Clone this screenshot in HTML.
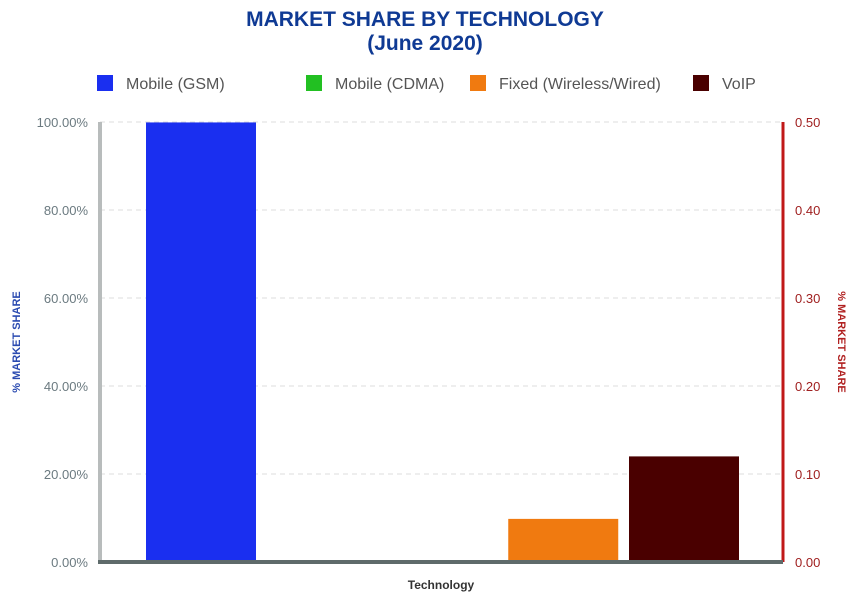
<!DOCTYPE html>
<html><head><meta charset="utf-8"><style>
body{margin:0;background:#fff;font-family:"Liberation Sans",sans-serif}
svg text{font-family:"Liberation Sans",sans-serif}
</style></head><body>
<svg id="c" width="850" height="598">
<text x="425" y="26" text-anchor="middle" font-size="21" font-weight="bold" fill="#0f3a94">MARKET SHARE BY TECHNOLOGY</text>
<text x="425" y="50" text-anchor="middle" font-size="21" font-weight="bold" fill="#0f3a94">(June 2020)</text>
<g id="grid"></g>
<g id="bars"></g>
<g id="axes"></g>
<g id="legend"></g>
<text transform="translate(20,342) rotate(-90)" text-anchor="middle" font-size="11" font-weight="bold" fill="#2a4ab0">% MARKET SHARE</text>
<text transform="translate(838,342) rotate(90)" text-anchor="middle" font-size="11" font-weight="bold" fill="#b02020">% MARKET SHARE</text>
<text x="441" y="589" text-anchor="middle" font-size="12" font-weight="bold" fill="#333">Technology</text>
</svg>
<script>
const categories=["Mobile (GSM)","Mobile (CDMA)","Fixed (Wireless/Wired)","VoIP"];
const leftValues=[99.9,0,null,null];
const rightValues=[null,null,0.049,0.12];
const colors=["#1a2ff0","#22c022","#f07a10","#4a0000"];
const leftTicks=[0,20,40,60,80,100];
const rightTicks=[0,0.1,0.2,0.3,0.4,0.5];
const NS="http://www.w3.org/2000/svg";
const X0=100,X1=783,Y0=562,Y1=122;
const yL=v=>Y0-(v/100)*(Y0-Y1);
const yR=v=>Y0-(v/0.5)*(Y0-Y1);
const slot=120.75,barW=110;
const xC=i=>201+i*slot+(i>=2?slot:0);
function mk(t,a,p){const e=document.createElementNS(NS,t);for(const k in a)e.setAttribute(k,a[k]);p.appendChild(e);return e;}
const grid=document.getElementById('grid'),bars=document.getElementById('bars'),axes=document.getElementById('axes'),leg=document.getElementById('legend');
leftTicks.forEach((t,i)=>{
 const y=yL(t);
 if(t>0){const g=mk('line',{x1:X0,x2:X1,y1:y,y2:y,stroke:'#ddd','stroke-dasharray':'5,4'},grid);
 
 }
 const l=mk('text',{x:88,y:y+5,'text-anchor':'end','font-size':13,fill:'#6b7a80'},axes);l.textContent=t.toFixed(2)+'%';
 
 
});
rightTicks.forEach(t=>{
 const y=yR(t);
 const l=mk('text',{x:795,y:y+5,'font-size':13,fill:'#a02020'},axes);l.textContent=t.toFixed(2);
 
 
});
categories.forEach((c,i)=>{
 let top=null;
 if(leftValues[i]!=null)top=yL(leftValues[i]);else if(rightValues[i]!=null)top=yR(rightValues[i]);
 if(top==null)return;
 const r=mk('rect',{x:xC(i)-barW/2,y:top,width:barW,height:Y0-top,fill:colors[i]},bars);
 
 
});
let a=mk('line',{x1:X0,x2:X0,y1:Y1,y2:Y0,stroke:'#b8bcbc','stroke-width':4},axes);


a=mk('line',{x1:X1,x2:X1,y1:Y1,y2:Y0,stroke:'#c01818','stroke-width':3},axes);


a=mk('line',{x1:X0-2,x2:X1,y1:Y0,y2:Y0,stroke:'#5f6b6b','stroke-width':4},axes);


const legX=[97,306,470,693];
categories.forEach((c,i)=>{
 const g=mk('g',{},leg);
 
 
 mk('rect',{x:legX[i],y:75,width:16,height:16,fill:colors[i]},g);
 const t=mk('text',{x:legX[i]+29,y:89,'font-size':16,fill:'#555'},g);t.textContent=c;
});
</script>
</body></html>
